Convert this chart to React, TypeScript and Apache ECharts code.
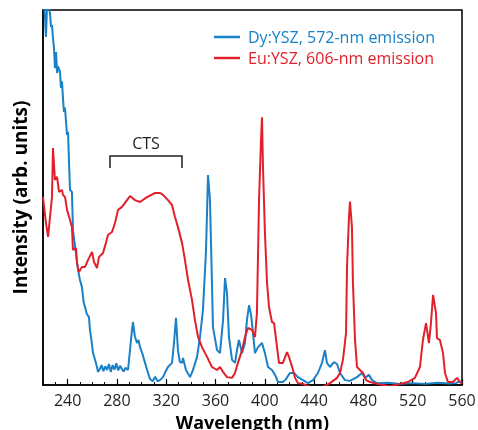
import React, { useEffect, useRef } from "react";
import * as echarts from "echarts";

// Excitation spectra, wavelength (nm) vs intensity (arb. units, 0-100 scale)
const dyWavelength = [
  220.5, 221.6, 222.4, 223.3, 224.1, 225.7, 226.5, 227.3, 228.1, 228.9, 229.7, 230.6, 231.4, 232.2,
  233.8, 234.6, 235.4, 236.2, 237, 237.8, 239.5, 240.3, 241.1, 241.9, 243.5, 244.3, 246, 248.4,
  250, 251.6, 253, 254.1, 255.5, 257.3, 258.1, 259.5, 260.6, 262, 263.8, 264.6,
  266, 267.5, 269, 270.5, 272, 273.5, 275, 276.5, 278, 279.5, 281, 282.5, 284, 285.5, 287, 289,
  290.5, 292, 293, 294.5, 296.3, 297.5, 298.7, 300.5, 302.8, 304.5, 306.8, 309, 311, 313, 314.9,
  317.4, 319.5, 321.4, 324.7, 326.3, 327.9, 329.5, 331, 332.8, 333.6, 336, 339.3, 341.7, 345,
  347.4, 349.8, 352.3, 353.9, 355.5, 357.1, 357.9, 361.2, 363.6, 366.1, 367.7, 369.3, 370.9,
  373.4, 375.8, 377.4, 379, 381.5, 383.9, 385.5, 387.2, 388.8, 390.4, 392, 394.5, 397.7, 400.1,
  402.6, 405.8, 408.3, 410.7, 414.7, 417, 420.4, 423.7, 426.9, 431, 435, 439.1, 443.1, 446.4,
  448.8, 450.4, 452.9, 456.1, 458.6, 461, 465, 469.1, 474.8, 478.8, 481.3, 484.5, 487, 491,
  500, 510, 520, 530, 540, 550, 555, 558, 560,
];
const dyIntensity = [
  104, 98, 92.8, 101, 103, 99, 95.5, 96, 92.5, 90, 84.5, 88.8, 83.2, 85,
  83.5, 79.2, 81, 76.5, 72.8, 74, 66.7, 67.5, 59.5, 52, 51.5, 41.3, 37, 30.7,
  28, 26.1, 22, 20.8, 19, 18.1, 14.7, 11.5, 8.5, 7, 4.8, 3.5,
  4.2, 5.3, 3.7, 5.0, 4.0, 5.6, 3.5, 5.3, 4.1, 5.8, 3.9, 5.1, 4.3, 3.6, 4.6, 4.0,
  9, 14, 16.8, 13, 11.2, 12, 10.1, 8.5, 5.9, 4, 1.6, 1.0, 2.2, 1.0, 1.3,
  2.1, 3.6, 4.8, 5.9, 11.2, 17.9, 9.3, 6.2, 5.9, 7.2, 4, 2.1, 4, 7.5,
  12.8, 20, 36, 56, 49.3, 27.2, 15.5, 9.3, 8.5, 17.3, 28.5, 24.5, 12.8,
  6.7, 5.9, 9.3, 12, 8.5, 11.2, 17.3, 21.3, 18.7, 13.9, 8.5, 10.1, 11.2, 8.5,
  4.8, 4, 2.7, 0.8, 0.8, 1.5, 3.2, 3.2, 2.1, 1.3, 0.5, 1.3, 3.2, 5.9,
  9.3, 5.9, 4.8, 6.1, 5.6, 3.2, 1.3, 1.1, 2.1, 3.2, 1.9, 2.7, 1.3, 0.5,
  0.6, 0.3, 0.5, 0.3, 0.6, 0.4, 0.5, 1.0, 0.4,
];

const euWavelength = [
  220, 222.4, 224.1, 225.7, 227.3, 228.1, 229.7, 231.4, 233, 235.4, 236.2, 237.9, 239.5, 241.9,
  243.5, 244.3, 246.8, 247.6, 249.2, 251.6, 254.1, 256.5, 259.8, 261.4, 263.8, 265.4, 268.7,
  271.1, 272.7, 276, 278.4, 280.9, 284.1, 288.2, 290.6, 294.7, 298.7, 304.4, 310.9, 314.9,
  317.4, 321.4, 324.7, 327.1, 329.5, 332.8, 335.2, 337.7, 340.9, 343.3, 345.8, 349, 353.1,
  357.1, 361.2, 363.6, 366.1, 369.3, 373.4, 375.8, 378.2, 381.5, 383.9, 386.3, 389.6, 392,
  393.6, 395.3, 396.9, 397.7, 398.5, 400.1, 401.8, 403.4, 405.8, 407.5, 409.9, 411.5, 414.7,
  418, 419.6, 422.9, 424.5, 426.9, 431, 435, 440.7, 447.2, 452.9, 458.6, 461, 463.4, 465.9,
  466.7, 468.3, 469.1, 470.7, 471.5, 473.2, 474.8, 477.2, 479.7, 482.1, 485.3, 491, 495.9,
  501.6, 509.7, 516.2, 521.8, 525.9, 528.3, 530.8, 533.2, 534.8, 536.5, 538.9, 539.7, 542.1,
  544.6, 546.2, 548.6, 552.7, 556, 558.4, 560,
];
const euIntensity = [
  50.1, 43.2, 39.5, 44.8, 50.1, 63.2, 54.7, 55.5, 51.5, 52, 50.7, 50.1, 46.7, 44,
  42.1, 36, 36.5, 32.5, 30.1, 31.5, 31.5, 33.3, 35.5, 32.8, 31.2, 34.1, 35.2,
  37.9, 40, 40.8, 43.2, 46.7, 47.5, 49.3, 50.4, 49.3, 48.8, 50.1, 51.2, 51.2,
  50.7, 49.3, 48, 44.8, 42.1, 37.9, 33.3, 28, 22.7, 17.3, 12.8, 10.1, 7.5,
  4.8, 4, 4.8, 3.5, 2.1, 1.9, 3.2, 5.9, 9.3, 12.8, 15.2, 14.7, 12.8,
  19.2, 49.3, 65.3, 71.4, 58.1, 40.5, 27.2, 20.8, 16.8, 16.5, 10.1, 5.9, 5.9,
  8.8, 7.5, 4, 1.9, 0.5, 0.3, -0.3, -0.8, -0.5, 0.5, 1.9, 3.2, 6.7, 13.9,
  31.5, 44.8, 48.9, 42.1, 27.2, 12, 4.8, 4, 3.2, 1.3, 0.8, 0.3, 0,
  -0.3, 0.3, 0.8, 1.9, 4.8, 12, 16.5, 11.2, 16.5, 24, 19.2, 12.5, 12,
  8.5, 3.2, 0.8, 0.8, 1.9, 0.8, 0.3,
];

const tickLabels = [240, 280, 320, 360, 400, 440, 480, 520, 560];

const SERIES_DY = "Dy:YSZ, 572-nm emission";
const SERIES_EU = "Eu:YSZ, 606-nm emission";
const BLUE = "#1a80c8";
const RED = "#e2202b";
const FONT = "'Open Sans', sans-serif";

const zip = (xs: number[], ys: number[]) => xs.map((x, i) => [x, ys[i]]);

export default function App() {
  const ref = useRef<HTMLDivElement>(null);

  useEffect(() => {
    if (!ref.current) return;
    const chart = echarts.init(ref.current, undefined, { renderer: "svg" });
    chart.setOption({
      animation: false,
      textStyle: { fontFamily: FONT },
      grid: {
        left: 43,
        right: 16,
        top: 10,
        bottom: 45,
        containLabel: false,
        outerBoundsMode: "none",
        show: true,
        borderColor: "#000",
        borderWidth: 1.5,
      },
      legend: {
        orient: "vertical",
        left: 214,
        top: 28,
        padding: 0,
        icon: "rect",
        itemWidth: 26,
        itemHeight: 2.5,
        itemGap: 3,
        textStyle: { fontSize: 16, lineHeight: 18, fontFamily: FONT, padding: [0, 0, 0, 3] },
        data: [
          { name: SERIES_DY, textStyle: { color: BLUE } },
          { name: SERIES_EU, textStyle: { color: RED } },
        ],
      },
      xAxis: [
        {
          type: "value",
          min: 220,
          max: 560,
          name: "Wavelength (nm)",
          nameLocation: "middle",
          nameGap: 20,
          nameTextStyle: {
            fontSize: 18,
            fontWeight: "bold",
            color: "#000",
            fontFamily: FONT,
            lineHeight: 18,
          },
          axisLine: { show: true, lineStyle: { color: "#000", width: 1.5 } },
          axisTick: {
            show: true,
            inside: true,
            length: 6,
            customValues: tickLabels,
            lineStyle: { color: "#000", width: 1.2 },
          },
          axisLabel: {
            customValues: tickLabels,
            fontSize: 16,
            color: "#231f20",
            margin: 7,
            fontFamily: FONT,
          },
          splitLine: { show: false },
        },
        {
          // minor ticks every 10 nm
          type: "value",
          min: 220,
          max: 560,
          interval: 10,
          position: "bottom",
          axisLine: { show: false },
          axisTick: { show: true, inside: true, length: 3, lineStyle: { color: "#000", width: 1 } },
          axisLabel: { show: false },
          splitLine: { show: false },
        },
      ],
      yAxis: {
        type: "value",
        min: 0,
        max: 100,
        name: "Intensity (arb. units)",
        nameLocation: "middle",
        nameGap: 14,
        nameTextStyle: { fontSize: 19, fontWeight: "bold", color: "#000", fontFamily: FONT },
        axisLine: { show: true, lineStyle: { color: "#000", width: 1.5 } },
        axisTick: { show: false },
        axisLabel: { show: false },
        splitLine: { show: false },
      },
      series: [
        {
          name: SERIES_DY,
          type: "line",
          xAxisIndex: 0,
          data: zip(dyWavelength, dyIntensity),
          symbol: "none",
          clip: true,
          color: BLUE,
          lineStyle: { color: BLUE, width: 2 },
          z: 2,
        },
        {
          name: SERIES_EU,
          type: "line",
          xAxisIndex: 0,
          data: zip(euWavelength, euIntensity),
          symbol: "none",
          clip: true,
          color: RED,
          lineStyle: { color: RED, width: 2 },
          z: 3,
        },
      ],
      graphic: [
        {
          type: "polyline",
          shape: { points: [[110, 168], [110, 156], [182, 156], [182, 168]] },
          style: { stroke: "#231f20", lineWidth: 1.5, fill: "none" },
        },
        {
          type: "text",
          x: 146,
          y: 143,
          style: {
            text: "CTS",
            align: "center",
            verticalAlign: "middle",
            fontSize: 16,
            fontFamily: FONT,
            fill: "#231f20",
          },
        },
      ],
    });
    return () => chart.dispose();
  }, []);

  return (
    <div
      ref={ref}
      style={{ position: "fixed", left: 0, top: 0, width: 478, height: 430 }}
    />
  );
}
